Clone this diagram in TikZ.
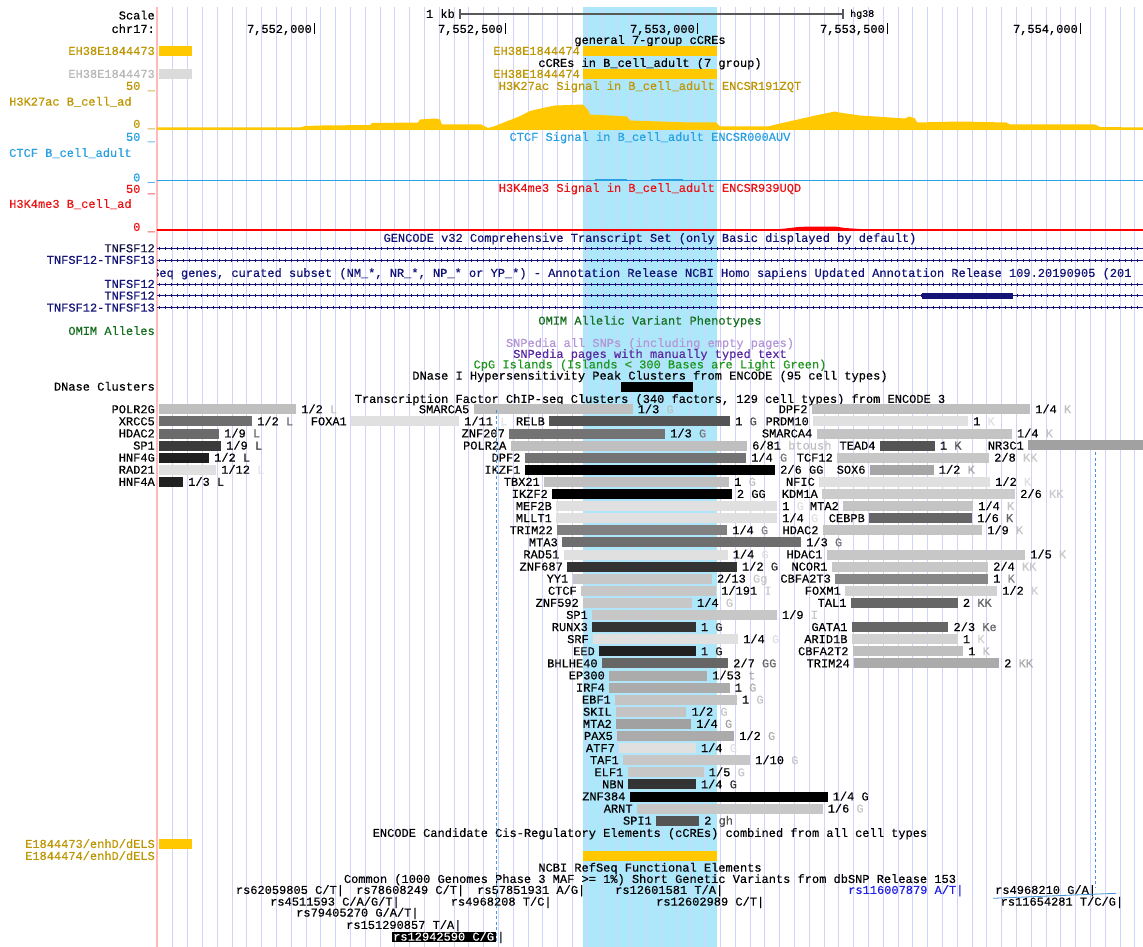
\documentclass[tikz,border=0pt]{standalone}
\usepackage{fontspec}
\newfontfamily\ucsc{Liberation Mono}[FakeBold=0.35]
\definecolor{gold}{RGB}{190,150,0}
\definecolor{cyell}{RGB}{255,200,0}
\definecolor{ctcfc}{RGB}{40,160,225}
\definecolor{h3red}{RGB}{235,20,20}
\definecolor{navyc}{RGB}{20,20,120}
\definecolor{genelbl}{RGB}{20,20,70}
\definecolor{omimg}{RGB}{20,110,30}
\definecolor{snplt}{RGB}{180,150,215}
\definecolor{snpdk}{RGB}{90,40,160}
\definecolor{cpgg}{RGB}{30,150,30}
\definecolor{hilite}{RGB}{172,232,250}
\definecolor{gridc}{RGB}{210,210,255}
\definecolor{pinkc}{RGB}{255,185,185}
\definecolor{dashc}{RGB}{70,150,220}
\definecolor{snpblue}{RGB}{30,30,230}
\newcounter{nd}
\newcommand\tx[3][]{\stepcounter{nd}\node[lbl,#1] (n\arabic{nd}) at (#2) {#3};}
\newcommand\tfrow[7]{%
  \pgfmathsetmacro\yy{409.3+12.1*#1}%
  \fill[black!#5] (#2,\yy-5) rectangle (#3,\yy+5);
  \tx[anchor=east]{#2-4,\yy}{#4}
  \tx[anchor=west]{#3+5,\yy}{#6 \textcolor{black!#5}{#7}}
}
\begin{document}
\begin{tikzpicture}[x=1pt,y=-1pt,
  lbl/.style={inner sep=0pt,font=\ucsc\fontsize{12}{12}\selectfont,text height=7.8pt,text depth=0pt},
  gline/.style={navyc,line width=0.8pt},
  gtick/.style={navyc,line width=3pt,dash pattern=on 0.7pt off 5.3pt},
  vdash/.style={dashc,line width=0.8pt,dash pattern=on 3pt off 2.5pt}]
\useasboundingbox (0,0) rectangle (1143,947);
\fill[white] (0,0) rectangle (1143,947);
% highlight
\fill[hilite] (583,7) rectangle (717,947);
% grid
\foreach \k in {0,...,65}{\draw[gridc,line width=0.8pt] ({172.7+14.8*\k},7) -- ({172.7+14.8*\k},947);}
\draw[pinkc,line width=1.2pt] (157,7) -- (157,947);

% ruler
\tx[anchor=east]{155,15.5}{Scale}
\tx[anchor=east]{455,14}{1 kb}
\draw[black!65,line width=1.5pt] (460,14) -- (843,14);
\draw[black!65,line width=1.2pt] (460,9) -- (460,19) (843,9) -- (843,19);
\tx[anchor=west,font=\ucsc\fontsize{10}{10}\selectfont]{850,13}{hg38}
\tx[anchor=east]{155,29}{chr17:}
\foreach \xx/\lab in {314/{7,552,000},505/{7,552,500},697/{7,553,000},887/{7,553,500},1080/{7,554,000}}{
  \tx[anchor=east]{\xx-2,29}{\lab}
  \draw[black,line width=1pt] (\xx,23.5) -- (\xx,34.5);
}

% cCREs
\tx{650,40}{general 7-group cCREs}
\fill[cyell] (159,46) rectangle (192,56);
\fill[cyell] (583,46) rectangle (717,56);
\tx[anchor=east,text=gold]{155,51}{EH38E1844473}
\tx[anchor=east,text=gold]{580,51}{EH38E1844474}
\tx{650,63}{cCREs in B\_cell\_adult (7 group)}
\fill[black!14] (159,69) rectangle (192,79);
\fill[cyell] (583,69) rectangle (717,79);
\tx[anchor=east,text=black!28]{155,74}{EH38E1844473}
\tx[anchor=east,text=gold]{580,74}{EH38E1844474}

% H3K27ac
\tx[anchor=east,text=gold]{155,86}{50 \_}
\tx[text=gold]{650,86}{H3K27ac Signal in B\_cell\_adult ENCSR191ZQT}
\tx[anchor=west,text=gold]{9,101.7}{H3K27ac B\_cell\_ad}
\tx[anchor=east,text=gold]{155,124}{0 \_}
\fill[cyell] (157,130) -- (157,127.5) -- (300,127.5) -- (305,126) -- (322,125.5) -- (370,125) -- (372,123) -- (418,122.5) -- (420,119.5) -- (435,118.5) -- (440,119.5) -- (442,124.5) -- (481,124.5) -- (488,128) -- (495,126) -- (505,122) -- (518,117) -- (530,111) -- (545,107.5) -- (555,105.5) -- (570,105) -- (583,104.5) -- (588,110) -- (590,114.5) -- (610,115.5) -- (627,116.5) -- (630,120.5) -- (660,121.5) -- (690,122.5) -- (716,122.5) -- (720,126.5) -- (768,126.5) -- (780,123.5) -- (800,119) -- (820,114.5) -- (835,111.5) -- (839,112.5) -- (860,115.5) -- (890,117.5) -- (905,118.5) -- (909,116.5) -- (915,118.5) -- (917,122.5) -- (960,121.5) -- (1006,122.5) -- (1010,124.5) -- (1095,124.5) -- (1100,127) -- (1143,127.5) -- (1143,130) -- cycle;

% CTCF
\tx[anchor=east,text=ctcfc]{155,137}{50 \_}
\tx[text=ctcfc]{650,137}{CTCF Signal in B\_cell\_adult ENCSR000AUV}
\tx[anchor=west,text=ctcfc]{9,153}{CTCF B\_cell\_adult}
\tx[anchor=east,text=ctcfc]{155,177.5}{0 \_}
\draw[ctcfc,line width=1.3pt] (157,180.7) -- (1143,180.7);
\draw[ctcfc,line width=1pt] (595,179.3) -- (627,179.3) (651,179.3) -- (683,179.3);

% H3K4me3
\tx[anchor=east,text=h3red]{155,189}{50 \_}
\tx[text=h3red]{650,188}{H3K4me3 Signal in B\_cell\_adult ENCSR939UQD}
\tx[anchor=west,text=h3red]{9,204}{H3K4me3 B\_cell\_ad}
\tx[anchor=east,text=h3red]{155,227}{0 \_}
\draw[red,line width=1.3pt] (157,230) -- (1143,230);
\draw[red,line width=1pt] (560,229) -- (575,229) (608,229) -- (616,229) (658,229) -- (683,229) (954,229) -- (1012,229) (1114,229) -- (1143,229);
\fill[red] (761,230) -- (780,229) -- (790,228) -- (798,227) -- (810,226.5) -- (835,226.5) -- (845,228) -- (860,229) -- (883,230) -- cycle;

% genes
\tx[text=navyc]{650,238}{GENCODE v32 Comprehensive Transcript Set (only Basic displayed by default)}
\foreach \yy in {248.3,260,284,295.7,307.7}{
  \draw[gline] (157,\yy) -- (1143,\yy);
  \draw[gtick] (159,\yy) -- (1143,\yy);
}
\fill[navyc] (922,293) rectangle (1013,298.5);
\tx[anchor=east,text=genelbl]{155,248.3}{TNFSF12}
\tx[anchor=east,text=navyc]{155,260}{TNFSF12-TNFSF13}
\begin{scope}
\clip (157,262) rectangle (1143,282);
\tx[anchor=west,text=navyc]{152,273}{Seq genes, curated subset (NM\_*, NR\_*, NP\_* or YP\_*) - Annotation Release NCBI Homo sapiens Updated Annotation Release 109.20190905 (201}
\end{scope}
\tx[anchor=east,text=navyc]{155,284}{TNFSF12}
\tx[anchor=east,text=navyc]{155,295.7}{TNFSF12}
\tx[anchor=east,text=navyc]{155,307.7}{TNFSF12-TNFSF13}

% other track titles
\tx[text=omimg]{650,320.7}{OMIM Allelic Variant Phenotypes}
\tx[anchor=east,text=omimg]{155,331}{OMIM Alleles}
\tx[text=snplt]{650,343}{SNPedia all SNPs (including empty pages)}
\tx[text=snpdk]{650,354}{SNPedia pages with manually typed text}
\tx[text=cpgg]{650,364.5}{CpG Islands (Islands < 300 Bases are Light Green)}
\tx{650,375.7}{DNase I Hypersensitivity Peak Clusters from ENCODE (95 cell types)}
\tx[anchor=east]{155,386.7}{DNase Clusters}
\fill[black] (621,381.7) rectangle (693,391.7);
\tx{650,399}{Transcription Factor ChIP-seq Clusters (340 factors, 129 cell types) from ENCODE 3}

% TF clusters, left
\tfrow{0}{159}{296}{POLR2G}{25}{1/2}{L}
\tfrow{1}{159}{252}{XRCC5}{57}{1/2}{L}
\tfrow{2}{159}{219}{HDAC2}{58}{1/9}{L}
\tfrow{3}{159}{221}{SP1}{77}{1/9}{L}
\tfrow{4}{159}{209}{HNF4G}{88}{1/2}{L}
\tfrow{5}{159}{216}{RAD21}{12}{1/12}{L}
\tfrow{6}{159}{183}{HNF4A}{87}{1/3}{L}
\tfrow{1}{351}{459}{FOXA1}{12}{1/11}{L}
% middle
\tfrow{0}{473.5}{632.5}{SMARCA5}{25}{1/3}{G}
\tfrow{1}{549}{730}{RELB}{67}{1}{G}
\tfrow{2}{509}{665}{ZNF207}{55}{1/3}{G}
\tfrow{3}{510.5}{747}{POLR2A}{25}{6/81}{btoush}
\tfrow{4}{524.6}{746}{DPF2}{55}{1/4}{G}
\tfrow{5}{524.6}{775}{IKZF1}{100}{2/6}{GG}
\tfrow{6}{544}{729}{TBX21}{25}{1}{G}
\tfrow{7}{552}{731.7}{IKZF2}{100}{2}{GG}
\tfrow{8}{556}{777}{MEF2B}{12}{1}{G}
\tfrow{9}{556}{777}{MLLT1}{12}{1/4}{G}
\tfrow{10}{557}{727}{TRIM22}{50}{1/4}{G}
\tfrow{11}{562}{801}{MTA3}{57}{1/3}{G}
\tfrow{12}{563.6}{727.5}{RAD51}{12}{1/4}{G}
\tfrow{13}{567}{736.8}{ZNF687}{80}{1/2}{G}
\tfrow{14}{572.5}{711.8}{YY1}{22}{2/13}{Gg}
\tfrow{15}{581}{716}{CTCF}{22}{1/191}{I}
\tfrow{16}{583}{691.8}{ZNF592}{22}{1/4}{G}
\tfrow{17}{592}{776.8}{SP1}{22}{1/9}{I}
\tfrow{18}{592}{695.7}{RUNX3}{80}{1}{G}
\tfrow{19}{593}{738}{SRF}{12}{1/4}{G}
\tfrow{20}{599}{695.7}{EED}{87}{1}{G}
\tfrow{21}{601.8}{728}{BHLHE40}{60}{2/7}{GG}
\tfrow{22}{609}{707}{EP300}{33}{1/53}{t}
\tfrow{23}{609}{729.6}{IRF4}{33}{1}{G}
\tfrow{24}{615}{736.8}{EBF1}{23}{1}{G}
\tfrow{25}{616}{686.4}{SKIL}{23}{1/2}{G}
\tfrow{26}{616}{691}{MTA2}{37}{1/4}{G}
\tfrow{27}{617}{734}{PAX5}{33}{1/2}{G}
\tfrow{28}{619}{695.7}{ATF7}{12}{1/4}{G}
\tfrow{29}{623}{750}{TAF1}{22}{1/10}{G}
\tfrow{30}{627.5}{703.6}{ELF1}{22}{1/5}{G}
\tfrow{31}{628}{695.7}{NBN}{80}{1/4}{G}
\tfrow{32}{629.6}{827.5}{ZNF384}{100}{1/4}{G}
\tfrow{33}{636.8}{822.5}{ARNT}{22}{1/6}{G}
\tfrow{34}{656}{699}{SPI1}{67}{2}{gh}
% right
\tfrow{0}{811.7}{1030}{DPF2}{25}{1/4}{K}
\tfrow{1}{813}{968}{PRDM10}{12}{1}{K}
\tfrow{2}{816.5}{1011.7}{SMARCA4}{23}{1/4}{K}
\tfrow{3}{879.7}{934.7}{TEAD4}{67}{1}{K}
\fill[black!37] (1028,440.3) rectangle (1143,450.3);
\tx[anchor=east]{1024,445.6}{NR3C1}
\tfrow{4}{837}{989}{TCF12}{22}{2/8}{KK}
\tfrow{5}{869.7}{933.6}{SOX6}{35}{1/2}{K}
\tfrow{6}{819}{990}{NFIC}{12}{1/2}{K}
\tfrow{7}{822}{1015}{KDM1A}{20}{2/6}{KK}
\tfrow{8}{843}{973}{MTA2}{23}{1/4}{K}
\tfrow{9}{869}{972}{CEBPB}{60}{1/6}{K}
\tfrow{10}{822.7}{982}{HDAC2}{23}{1/9}{K}
\tfrow{12}{826.7}{1025}{HDAC1}{22}{1/5}{K}
\tfrow{13}{831.7}{988}{NCOR1}{22}{2/4}{KK}
\tfrow{14}{835}{988}{CBFA2T3}{47}{1}{K}
\tfrow{15}{845}{997}{FOXM1}{18}{1/2}{K}
\tfrow{16}{850.7}{957.7}{TAL1}{60}{2}{KK}
\tfrow{18}{851.7}{948.3}{GATA1}{60}{2/3}{Ke}
\tfrow{19}{851.7}{957.7}{ARID1B}{18}{1}{K}
\tfrow{20}{852.7}{963}{CBFA2T2}{25}{1}{K}
\tfrow{21}{854}{999}{TRIM24}{33}{2}{KK}

% combined cCREs
\tx{650,833}{ENCODE Candidate Cis-Regulatory Elements (cCREs) combined from all cell types}
\fill[cyell] (159,839) rectangle (192,849.3);
\fill[cyell] (583,850.7) rectangle (717,861);
\tx[anchor=east,text=gold]{155,844}{E1844473/enhD/dELS}
\tx[anchor=east,text=gold]{155,856}{E1844474/enhD/dELS}
\tx{650,867.7}{NCBI RefSeq Functional Elements}
\tx{650,879}{Common (1000 Genomes Phase 3 MAF >= 1\%) Short Genetic Variants from dbSNP Release 153}

% SNPs
\tx[anchor=west]{235.7,890}{rs62059805 C/T|}
\tx[anchor=west]{356,890}{rs78608249 C/T|}
\tx[anchor=west]{477,890}{rs57851931 A/G|}
\tx[anchor=west]{615,890}{rs12601581 T/A|}
\tx[anchor=west,text=snpblue]{848,890}{rs116007879 A/T|}
\tx[anchor=west]{995,890}{rs4968210 G/A|}
\tx[anchor=west]{270,901.7}{rs4511593 C/A/G/T|}
\tx[anchor=west]{450.6,901.7}{rs4968208 T/C|}
\tx[anchor=west]{656,901.7}{rs12602989 C/T|}
\tx[anchor=west]{1000.5,901.7}{rs11654281 T/C/G|}
\tx[anchor=west]{296,912.7}{rs79405270 G/A/T|}
\tx[anchor=west]{346,925}{rs151290857 T/A|}
\fill[black] (392,931.5) rectangle (495.7,942);
\tx[anchor=west,text=white]{393,936.7}{rs12942590 C/G}
\tx[anchor=west]{497,936.7}{|}
\draw[dashc,line width=0.8pt] (993,898.3) -- (1116,893.3);

% dashed guide lines
\draw[vdash] (496,410) -- (496,942);
\draw[vdash] (1095,452) -- (1095,888);
\end{tikzpicture}
\end{document}
